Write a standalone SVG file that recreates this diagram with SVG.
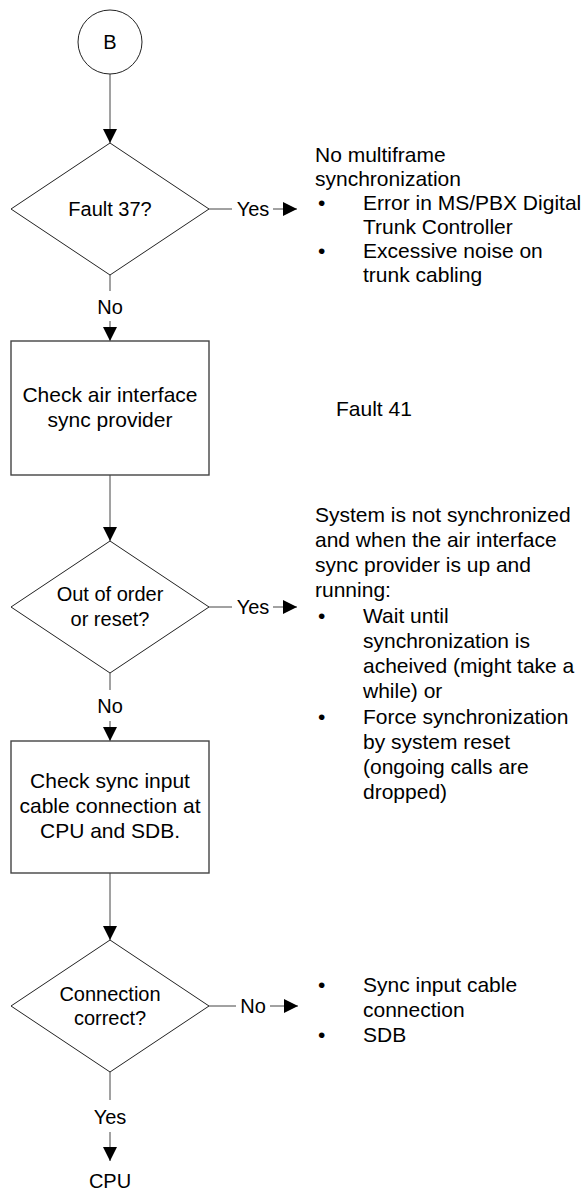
<svg xmlns="http://www.w3.org/2000/svg" width="586" height="1193" viewBox="0 0 586 1193">
<style>
text{font-family:"Liberation Sans",Arial,sans-serif;fill:#000}
.n{font-size:20px;text-anchor:middle}
.b{font-size:21px;text-anchor:middle}
.r{font-size:21px}
.shape{fill:#fff;stroke:#222;stroke-width:1}
.box{fill:#fff;stroke:#444;stroke-width:1.4}
.c{fill:none;stroke:#444;stroke-width:1}
</style>
<defs>
<marker id="ah" viewBox="0 0 14 14" refX="14" refY="7" markerWidth="14" markerHeight="14" markerUnits="userSpaceOnUse" orient="auto">
<path d="M0,0 L14,7 L0,14 z" fill="#000"/>
</marker>
</defs>
<rect width="586" height="1193" fill="#fff"/>
<g id="connectors">
<line class="c" x1="110" y1="74" x2="110" y2="143" marker-end="url(#ah)"/>
<line class="c" x1="209" y1="209" x2="232" y2="209"/>
<line class="c" x1="273" y1="209" x2="297" y2="209" marker-end="url(#ah)"/>
<line class="c" x1="110" y1="275" x2="110" y2="291"/>
<line class="c" x1="110" y1="321" x2="110" y2="341" marker-end="url(#ah)"/>
<line class="c" x1="110" y1="475" x2="110" y2="541" marker-end="url(#ah)"/>
<line class="c" x1="209" y1="607" x2="232" y2="607"/>
<line class="c" x1="273" y1="607" x2="297" y2="607" marker-end="url(#ah)"/>
<line class="c" x1="110" y1="673" x2="110" y2="690"/>
<line class="c" x1="110" y1="721" x2="110" y2="741" marker-end="url(#ah)"/>
<line class="c" x1="110" y1="873" x2="110" y2="940" marker-end="url(#ah)"/>
<line class="c" x1="209" y1="1006" x2="236" y2="1006"/>
<line class="c" x1="270" y1="1006" x2="298" y2="1006" marker-end="url(#ah)"/>
<line class="c" x1="110" y1="1072" x2="110" y2="1100"/>
<line class="c" x1="110" y1="1132" x2="110" y2="1161" marker-end="url(#ah)"/>
<text class="n" x="253" y="216">Yes</text>
<text class="n" x="110" y="314">No</text>
<text class="n" x="253" y="614">Yes</text>
<text class="n" x="110" y="713">No</text>
<text class="n" x="253" y="1013">No</text>
<text class="n" x="110" y="1124">Yes</text>
</g>
<g id="start">
<circle class="shape" cx="110" cy="42" r="32"/>
<text class="n" x="110" y="49">B</text>
</g>
<g id="fault37">
<polygon class="shape" points="110,143 209,209 110,275 11,209"/>
<text class="n" x="110" y="216">Fault 37?</text>
</g>
<g id="note1">
<text class="r" x="315" y="162">No multiframe</text>
<text class="r" x="315" y="186">synchronization</text>
<text class="r" x="318" y="210">•</text>
<text class="r" x="363" y="210">Error in MS/PBX Digital</text>
<text class="r" x="363" y="234">Trunk Controller</text>
<text class="r" x="318" y="258">•</text>
<text class="r" x="363" y="258">Excessive noise on</text>
<text class="r" x="363" y="282">trunk cabling</text>
</g>
<g id="checkAir">
<rect class="box" x="11" y="341" width="198" height="134"/>
<text class="b" x="110" y="402">Check air interface</text>
<text class="b" x="110" y="427">sync provider</text>
</g>
<g id="fault41">
<text class="r" x="336" y="416">Fault 41</text>
</g>
<g id="outOfOrder">
<polygon class="shape" points="110,541 209,607 110,673 11,607"/>
<text class="n" x="110" y="601">Out of order</text>
<text class="n" x="110" y="626">or reset?</text>
</g>
<g id="note2">
<text class="r" x="315" y="522">System is not synchronized</text>
<text class="r" x="315" y="547">and when the air interface</text>
<text class="r" x="315" y="572">sync provider is up and</text>
<text class="r" x="315" y="597">running:</text>
<text class="r" x="318" y="623">•</text>
<text class="r" x="363" y="623">Wait until</text>
<text class="r" x="363" y="648">synchronization is</text>
<text class="r" x="363" y="673">acheived (might take a</text>
<text class="r" x="363" y="698">while) or</text>
<text class="r" x="318" y="724">•</text>
<text class="r" x="363" y="724">Force synchronization</text>
<text class="r" x="363" y="749">by system reset</text>
<text class="r" x="363" y="774">(ongoing calls are</text>
<text class="r" x="363" y="799">dropped)</text>
</g>
<g id="checkSync">
<rect class="box" x="11" y="741" width="198" height="132"/>
<text class="b" x="110" y="788">Check sync input</text>
<text class="b" x="110" y="813">cable connection at</text>
<text class="b" x="110" y="838">CPU and SDB.</text>
</g>
<g id="connCorrect">
<polygon class="shape" points="110,940 209,1006 110,1072 11,1006"/>
<text class="n" x="110" y="1001">Connection</text>
<text class="n" x="110" y="1025">correct?</text>
</g>
<g id="note3">
<text class="r" x="318" y="992">•</text>
<text class="r" x="363" y="992">Sync input cable</text>
<text class="r" x="363" y="1017">connection</text>
<text class="r" x="318" y="1042">•</text>
<text class="r" x="363" y="1042">SDB</text>
</g>
<g id="cpu">
<text class="n" x="110" y="1188">CPU</text>
</g>
</svg>
